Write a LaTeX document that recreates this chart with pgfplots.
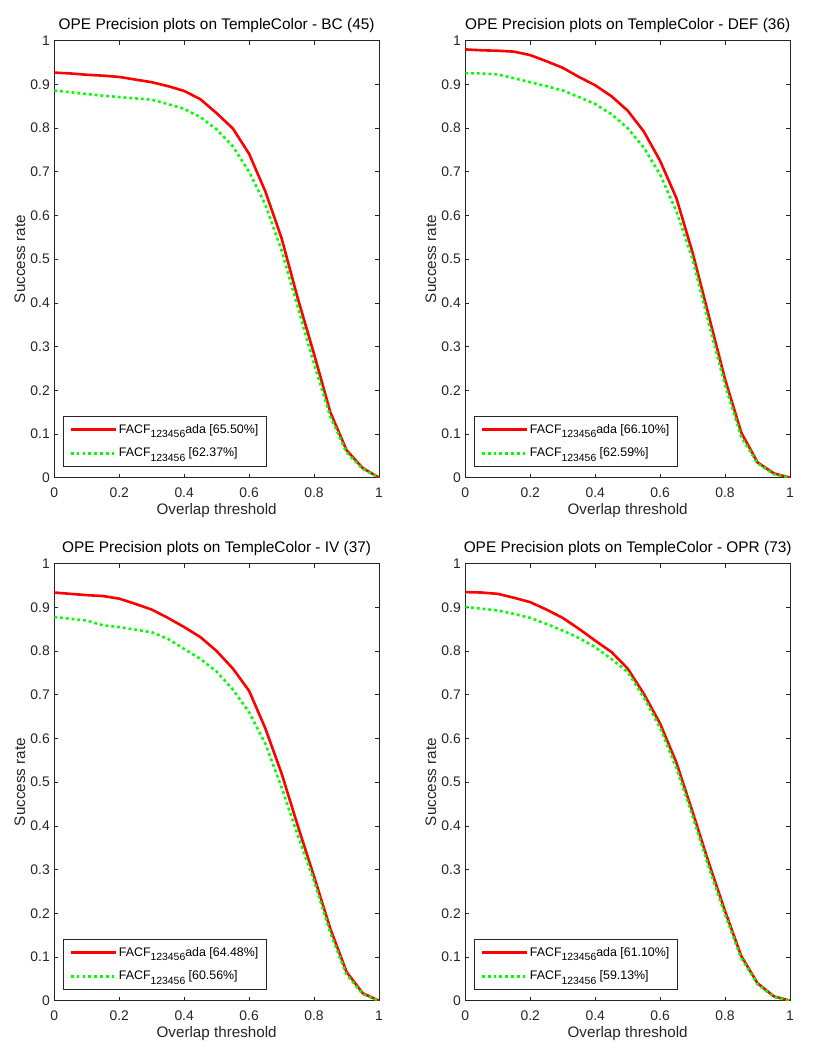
\documentclass[border=0pt]{standalone}
\usepackage{pgfplots}
\pgfplotsset{compat=1.18}
\usepackage{pgfplotstable}
\usepackage{fontspec}
\setmainfont{Liberation Sans}
\definecolor{axgray}{rgb}{0.15,0.15,0.15}
\definecolor{mred}{rgb}{1,0,0}
\definecolor{mgreen}{rgb}{0,1,0}
\newcommand{\sub}[1]{\raisebox{-4.5pt}{\fontsize{10.4}{10.4}\selectfont #1}}

\pgfplotstableread{
x r g
0.00 0.927 0.886
0.05 0.925 0.882
0.10 0.922 0.878
0.15 0.920 0.874
0.20 0.917 0.871
0.25 0.911 0.868
0.30 0.905 0.865
0.35 0.896 0.855
0.40 0.885 0.844
0.45 0.866 0.825
0.50 0.834 0.797
0.55 0.799 0.758
0.60 0.741 0.700
0.65 0.655 0.625
0.70 0.548 0.520
0.75 0.410 0.390
0.80 0.283 0.260
0.85 0.150 0.140
0.90 0.063 0.058
0.95 0.022 0.020
1.00 0.000 0.000
}\tBC

\pgfplotstableread{
x r g
0.00 0.980 0.926
0.05 0.978 0.925
0.10 0.977 0.923
0.15 0.975 0.914
0.20 0.967 0.905
0.25 0.953 0.896
0.30 0.938 0.886
0.35 0.917 0.871
0.40 0.898 0.855
0.45 0.873 0.832
0.50 0.840 0.800
0.55 0.792 0.755
0.60 0.725 0.694
0.65 0.640 0.610
0.70 0.515 0.500
0.75 0.370 0.352
0.80 0.225 0.212
0.85 0.103 0.093
0.90 0.035 0.033
0.95 0.010 0.008
1.00 0.000 0.000
}\tDEF

\pgfplotstableread{
x r g
0.00 0.934 0.878
0.05 0.931 0.874
0.10 0.928 0.870
0.15 0.926 0.859
0.20 0.920 0.855
0.25 0.908 0.849
0.30 0.895 0.843
0.35 0.876 0.828
0.40 0.855 0.805
0.45 0.832 0.782
0.50 0.800 0.753
0.55 0.760 0.712
0.60 0.709 0.660
0.65 0.623 0.588
0.70 0.520 0.488
0.75 0.400 0.378
0.80 0.284 0.274
0.85 0.165 0.155
0.90 0.066 0.060
0.95 0.017 0.015
1.00 0.000 0.000
}\tIV

\pgfplotstableread{
x r g
0.00 0.935 0.901
0.05 0.934 0.897
0.10 0.931 0.893
0.15 0.922 0.885
0.20 0.912 0.876
0.25 0.895 0.862
0.30 0.876 0.847
0.35 0.851 0.830
0.40 0.824 0.809
0.45 0.798 0.782
0.50 0.760 0.752
0.55 0.702 0.694
0.60 0.634 0.624
0.65 0.545 0.533
0.70 0.432 0.422
0.75 0.315 0.305
0.80 0.205 0.197
0.85 0.102 0.097
0.90 0.040 0.038
0.95 0.010 0.009
1.00 0.000 0.000
}\tOPR

\pgfplotsset{
  opestyle/.style={
    scale only axis, width=324.7pt, height=437pt,
    anchor=south west,
    xmin=0, xmax=1, ymin=0, ymax=1,
    xtick={0,0.2,0.4,0.6,0.8,1},
    ytick={0,0.1,0.2,0.3,0.4,0.5,0.6,0.7,0.8,0.9,1},
    tick align=inside, xtick pos=both, ytick pos=both,
    major tick length=4pt,
    axis line style={axgray, line width=0.6pt},
    every tick/.style={axgray, line width=0.6pt},
    /pgf/number format/assume math mode=true,
    ticklabel style={font=\fontsize{13.9}{16}\selectfont, text=axgray},
    xticklabel style={anchor=north, inner sep=0pt, yshift=-10pt},
    yticklabel style={anchor=east, inner sep=0pt, xshift=-4.3pt},
    title style={at={(axis description cs:0.5,1)}, anchor=base, yshift=5.4pt, inner sep=0pt, font=\fontsize{15.4}{18}\selectfont},
    xlabel={Overlap threshold}, ylabel={Success rate},
    label style={font=\fontsize{15.2}{18}\selectfont, text=axgray},
    xlabel style={at={([yshift=-37.3pt]axis description cs:0.5,0)}, anchor=base, inner sep=0pt},
    ylabel style={at={([xshift=-29.3pt]axis description cs:0,0.5)}, anchor=base, inner sep=0pt, rotate=0},
    legend style={at={(axis description cs:0,0)}, anchor=south west, xshift=9pt, yshift=11.4pt,
      draw=axgray, line width=0.6pt, fill=white, font=\fontsize{12.4}{14}\selectfont,
      inner xsep=6pt, inner ysep=5.5pt, row sep=9.4pt, cells={anchor=west}},
    legend image code/.code={\draw[##1] (0pt,0pt) -- (41.7pt,0pt); \path (0pt,0pt) -- (44.7pt,0pt);},
    legend cell align=left,
  },
  redline/.style={mred, line width=2.6pt, line join=round},
  greenline/.style={mgreen, line width=2.6pt, dash pattern=on 2.8pt off 3pt},
}

\begin{document}
\begin{tikzpicture}
\useasboundingbox (0pt,0pt) rectangle (830pt,1060pt);
\begin{axis}[opestyle, at={(54.3pt,582.3pt)}, title={OPE Precision plots on TempleColor - BC (45)}]
\addplot[redline] table[x=x,y=r]{\tBC};
\addlegendentry{FACF\sub{123456}ada [65.50\%]}
\addplot[greenline] table[x=x,y=g]{\tBC};
\addlegendentry{FACF\sub{123456} [62.37\%]}
\end{axis}
\begin{axis}[opestyle, at={(465.3pt,582.3pt)}, title={OPE Precision plots on TempleColor - DEF (36)}]
\addplot[redline] table[x=x,y=r]{\tDEF};
\addlegendentry{FACF\sub{123456}ada [66.10\%]}
\addplot[greenline] table[x=x,y=g]{\tDEF};
\addlegendentry{FACF\sub{123456} [62.59\%]}
\end{axis}
\begin{axis}[opestyle, at={(54.3pt,59.3pt)}, title={OPE Precision plots on TempleColor - IV (37)}]
\addplot[redline] table[x=x,y=r]{\tIV};
\addlegendentry{FACF\sub{123456}ada [64.48\%]}
\addplot[greenline] table[x=x,y=g]{\tIV};
\addlegendentry{FACF\sub{123456} [60.56\%]}
\end{axis}
\begin{axis}[opestyle, at={(465.3pt,59.3pt)}, title={OPE Precision plots on TempleColor - OPR (73)}]
\addplot[redline] table[x=x,y=r]{\tOPR};
\addlegendentry{FACF\sub{123456}ada [61.10\%]}
\addplot[greenline] table[x=x,y=g]{\tOPR};
\addlegendentry{FACF\sub{123456} [59.13\%]}
\end{axis}
\end{tikzpicture}
\end{document}
